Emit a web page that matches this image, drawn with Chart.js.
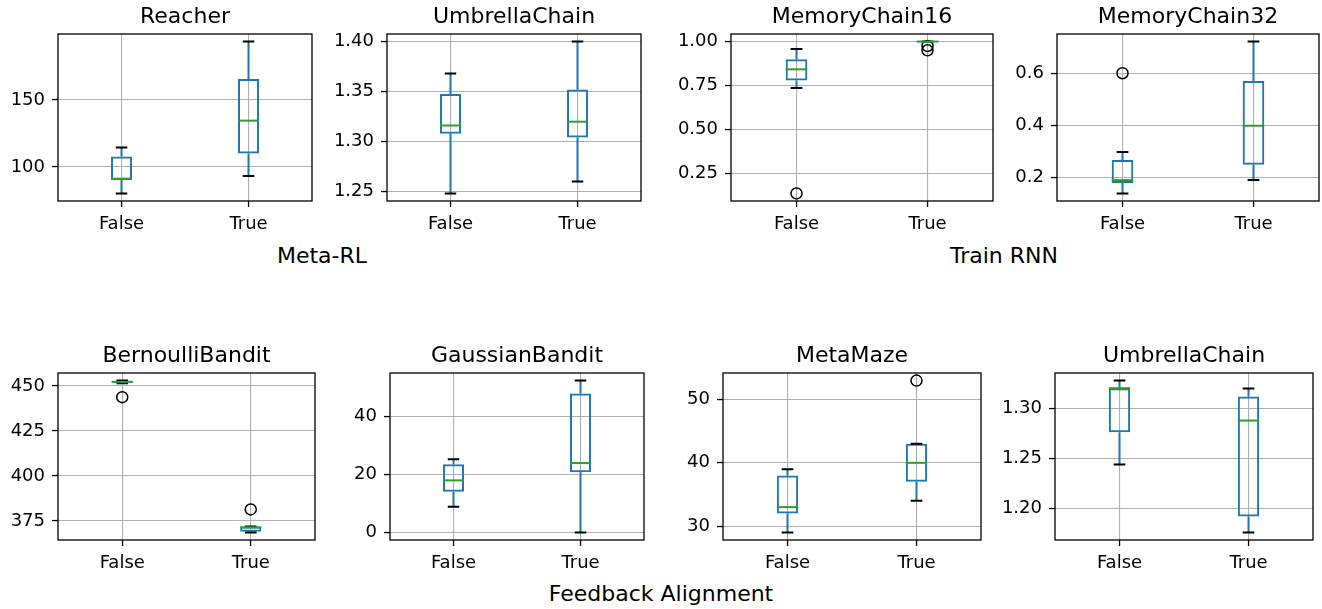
<!DOCTYPE html>
<html>
<head>
<meta charset="utf-8">
<script src="https://cdn.jsdelivr.net/npm/chart.js@4.4.0/dist/chart.umd.min.js"></script>
<style>
  body { margin: 0; background: #fff; width: 1322px; height: 609px; position: relative; overflow: hidden; font-family: "DejaVu Sans", sans-serif; }
  .panel { position: absolute; }
  .group { position: absolute; font-size: 22px; line-height: 22px; color: #000; transform: translateX(-50%); white-space: nowrap; }
</style>
</head>
<body>
<div class="group" style="left:322px; top:245px">Meta-RL</div>
<div class="group" style="left:1004px; top:245px">Train RNN</div>
<div class="group" style="left:661px; top:583px">Feedback Alignment</div>

<script>
const categories = ["False", "True"];
const titles = ["Reacher", "UmbrellaChain", "MemoryChain16", "MemoryChain32",
                "BernoulliBandit", "GaussianBandit", "MetaMaze", "UmbrellaChain"];

// each box: [low whisker, q1, median, q3, high whisker], one per category
const reacherBoxes = [[80.2, 90.2, 91.2, 107.7, 114.5], [93.2, 110, 134.5, 165.5, 193.5]];
const reacherOutliers = [[], []];
const reacherTicks = [100, 150];

const umbrellaBoxes = [[1.248, 1.3077, 1.316, 1.3476, 1.368], [1.26, 1.304, 1.3198, 1.352, 1.40]];
const umbrellaOutliers = [[], []];
const umbrellaTicks = [1.25, 1.30, 1.35, 1.40];

const mc16Boxes = [[0.736, 0.779, 0.842, 0.90, 0.958], [1.0, 1.0, 1.0, 1.0, 1.0]];
const mc16Outliers = [[0.135], [0.975, 0.95]];
const mc16Ticks = [0.25, 0.50, 0.75, 1.00];

const mc32Boxes = [[0.14, 0.18, 0.191, 0.268, 0.298], [0.191, 0.25, 0.399, 0.570, 0.721]];
const mc32Outliers = [[0.6], []];
const mc32Ticks = [0.2, 0.4, 0.6];

const bernoulliBoxes = [[451.5, 451.8, 452.3, 452.6, 453.0], [368.6, 368.9, 371.4, 371.9, 371.9]];
const bernoulliOutliers = [[443.8], [381.4]];
const bernoulliTicks = [375, 400, 425, 450];

const gaussianBoxes = [[8.9, 14.1, 18.0, 23.6, 25.3], [0, 20.8, 24.0, 48.0, 52.5]];
const gaussianOutliers = [[], []];
const gaussianTicks = [0, 20, 40];

const mazeBoxes = [[29, 32, 33, 38, 39], [34, 37, 40, 43, 43]];
const mazeOutliers = [[], [53]];
const mazeTicks = [30, 40, 50];

const umbrellaFaBoxes = [[1.244, 1.2762, 1.3204, 1.3204, 1.328], [1.176, 1.192, 1.288, 1.312, 1.32]];
const umbrellaFaOutliers = [[], []];
const umbrellaFaTicks = [1.20, 1.25, 1.30];

// plot areas on the page: [left, right, top, bottom]
const plotRects = [
  [58, 312, 34, 201], [387, 641, 34, 201], [731, 993, 34, 201], [1057, 1319, 34, 201],
  [58, 315, 373, 540], [390, 644, 373, 540], [723, 981, 373, 540], [1055, 1313, 373, 540]
];
const tickDecimals = [0, 2, 2, 1, 0, 0, 0, 2];

Chart.defaults.font.family = "'DejaVu Sans', sans-serif";
Chart.defaults.font.size = 18;
Chart.defaults.color = "#000";

const BLUE = "#1f77b4", GREEN = "#2ca02c", LW = 2;

// whiskers, caps, medians and the axes frame
const boxExtras = {
  id: "boxExtras",
  afterDatasetsDraw(chart) {
    const boxes = chart.options.plugins.boxExtras.boxes;
    const xs = chart.scales.x, ys = chart.scales.y;
    const ctx = chart.ctx;
    const bars = chart.getDatasetMeta(0).data;
    ctx.save();
    ctx.lineWidth = LW;
    boxes.forEach((b, i) => {
      const x = xs.getPixelForValue(i);
      const half = bars[i].width / 2 - LW / 2;
      const capHalf = half / 2 + LW / 2;
      const [lo, q1, med, q3, hi] = b.map(v => ys.getPixelForValue(v));
      ctx.strokeStyle = BLUE;
      ctx.beginPath();
      ctx.moveTo(x, q1); ctx.lineTo(x, lo);
      ctx.moveTo(x, q3); ctx.lineTo(x, hi);
      ctx.stroke();
      ctx.strokeStyle = "#000";
      ctx.beginPath();
      ctx.moveTo(x - capHalf, lo); ctx.lineTo(x + capHalf, lo);
      ctx.moveTo(x - capHalf, hi); ctx.lineTo(x + capHalf, hi);
      ctx.stroke();
      ctx.strokeStyle = GREEN;
      ctx.beginPath();
      ctx.moveTo(x - half - LW / 2, med); ctx.lineTo(x + half + LW / 2, med);
      ctx.stroke();
    });
    ctx.restore();
  },
  afterDraw(chart) {
    const a = chart.chartArea, ctx = chart.ctx;
    ctx.save();
    ctx.strokeStyle = "#000";
    ctx.lineWidth = 1.3;
    ctx.strokeRect(a.left, a.top, a.right - a.left, a.bottom - a.top);
    ctx.restore();
  }
};

function makePanel(idx, boxes, outliers, ticks) {
  const [x0, x1, y0, y1] = plotRects[idx];
  const M = 80, R = 10, T = 40, B = 45;
  const w = x1 - x0, h = y1 - y0;
  const wrap = document.createElement("div");
  wrap.className = "panel";
  wrap.style.left = (x0 - M) + "px";
  wrap.style.top = (y0 - T) + "px";
  const canvas = document.createElement("canvas");
  canvas.width = w + M + R;
  canvas.height = h + T + B;
  wrap.appendChild(canvas);
  document.body.appendChild(wrap);

  const all = boxes.flat().concat(outliers.flat());
  const lo = Math.min(...all), hi = Math.max(...all);
  const pad = (hi - lo) * 0.05;

  const points = [];
  outliers.forEach((list, i) => list.forEach(v => points.push({ x: categories[i], y: v })));

  new Chart(canvas, {
    type: "bar",
    data: {
      labels: categories,
      datasets: [
        {
          data: boxes.map(b => [b[1], b[3]]),
          backgroundColor: "rgba(0,0,0,0)",
          borderColor: BLUE,
          borderWidth: LW,
          borderSkipped: false,
          categoryPercentage: 1,
          barPercentage: 0.165
        },
        {
          type: "scatter",
          data: points,
          pointStyle: "circle",
          pointRadius: 5.5,
          borderColor: "#000",
          borderWidth: 1.5,
          backgroundColor: "rgba(0,0,0,0)"
        }
      ]
    },
    options: {
      responsive: false,
      animation: false,
      events: [],
      layout: { padding: { left: 0, right: R, top: 0, bottom: 0 } },
      plugins: {
        legend: { display: false },
        tooltip: { enabled: false },
        title: {
          display: true,
          text: titles[idx],
          fullSize: false,
          color: "#000",
          font: { size: 22, weight: "normal" },
          padding: { top: 10.3, bottom: 3.3 }
        },
        boxExtras: { boxes: boxes }
      },
      scales: {
        x: {
          type: "category",
          offset: true,
          afterFit: s => { s.height = B; },
          grid: { offset: false, color: "#b0b0b0", lineWidth: 1.1, tickLength: 6, tickColor: "#000", tickWidth: 1.3 },
          border: { display: false },
          ticks: { padding: 7, color: "#000" }
        },
        y: {
          min: lo - pad,
          max: hi + pad,
          afterFit: s => { s.width = M; },
          afterBuildTicks: s => { s.ticks = ticks.map(v => ({ value: v })); },
          grid: { color: "#b0b0b0", lineWidth: 1.1, tickLength: 6, tickColor: "#000", tickWidth: 1.3 },
          border: { display: false },
          ticks: { padding: 7, color: "#000", callback: v => Number(v).toFixed(tickDecimals[idx]) }
        }
      }
    },
    plugins: [boxExtras]
  });
}

makePanel(0, reacherBoxes, reacherOutliers, reacherTicks);
makePanel(1, umbrellaBoxes, umbrellaOutliers, umbrellaTicks);
makePanel(2, mc16Boxes, mc16Outliers, mc16Ticks);
makePanel(3, mc32Boxes, mc32Outliers, mc32Ticks);
makePanel(4, bernoulliBoxes, bernoulliOutliers, bernoulliTicks);
makePanel(5, gaussianBoxes, gaussianOutliers, gaussianTicks);
makePanel(6, mazeBoxes, mazeOutliers, mazeTicks);
makePanel(7, umbrellaFaBoxes, umbrellaFaOutliers, umbrellaFaTicks);
</script>
</body>
</html>
